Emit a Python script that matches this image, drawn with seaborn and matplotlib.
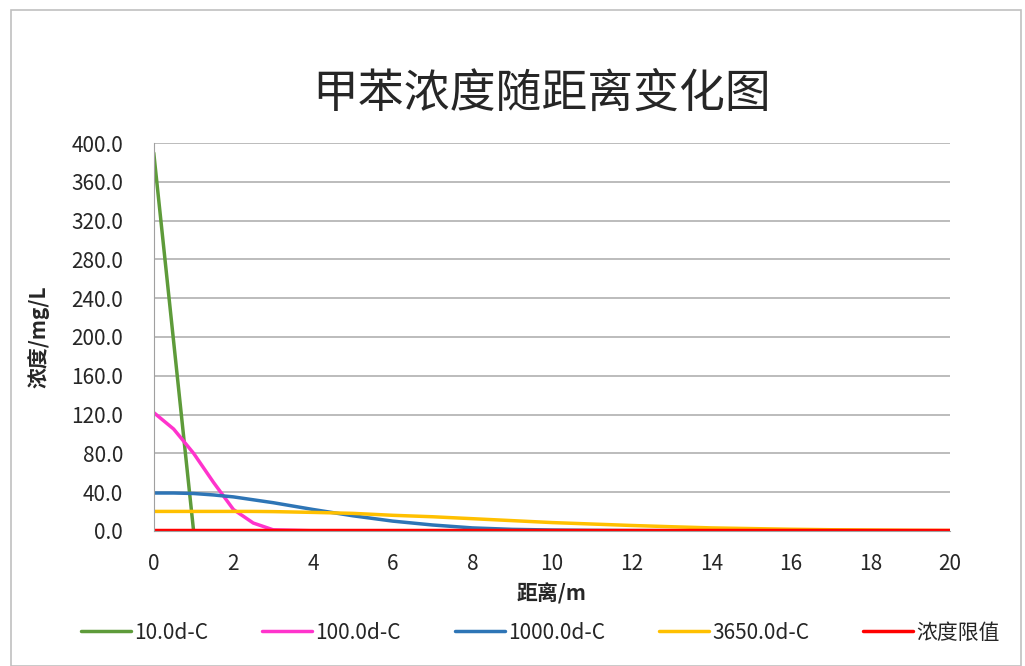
# 甲苯浓度随距离变化图
import numpy as np
import pandas as pd
import matplotlib
matplotlib.use("Agg")
import matplotlib.pyplot as plt
import seaborn as sns

# distance / m
distance = [0, 0.5, 1, 1.5, 2, 2.5, 3, 4, 5, 6, 7, 8, 9, 10, 11, 12, 13, 14, 15, 16, 17, 18, 19, 20]

# concentration / mg/L
c_10d = [390, 195, 0, 0, 0, 0, 0, 0, 0, 0, 0, 0, 0, 0, 0, 0, 0, 0, 0, 0, 0, 0, 0, 0]
c_100d = [122, 105, 80, 50, 22, 8, 1, 0, 0, 0, 0, 0, 0, 0, 0, 0, 0, 0, 0, 0, 0, 0, 0, 0]
c_1000d = [39, 39, 38.5, 37, 35, 32, 29, 22, 15.5, 10, 6, 3, 1.5, 0.8, 0.4, 0.2, 0.1, 0, 0, 0, 0, 0, 0, 0]
c_3650d = [20, 20, 20, 20, 20, 20, 19.8, 19, 18, 16, 14.5, 12.5, 10.5, 8.5, 7, 5.5, 4.2, 3, 2.3, 1.6, 1.1, 0.8, 0.5, 0.3]
c_limit = [0.7] * len(distance)

series_names = ["10.0d-C", "100.0d-C", "1000.0d-C", "3650.0d-C", "浓度限值"]
series_vals = [c_10d, c_100d, c_1000d, c_3650d, c_limit]
colors = ["#5e9b3a", "#ff33cc", "#2e75b6", "#ffc000", "#ff0000"]

y_ticks = np.arange(0, 401, 40)
x_ticks = np.arange(0, 21, 2)

# build long table for seaborn
rows = []
for name, vals in zip(series_names, series_vals):
    for d, v in zip(distance, vals):
        rows.append({"距离": d, "浓度": v, "series": name})
df = pd.DataFrame(rows)

sns.set_style("white")
plt.rcParams['font.family'] = ['Noto Sans CJK SC', 'DejaVu Sans']

fig = plt.figure(figsize=(10.25, 6.66), dpi=100)
ax = fig.add_axes([0.150, 0.203, 0.777, 0.582])

sns.lineplot(data=df, x="距离", y="浓度", hue="series", hue_order=series_names,
             palette=colors, linewidth=2.5, ax=ax, legend=False, sort=False)

# axes look like excel
ax.set_xlim(0, 20)
ax.set_ylim(0, 400)
ax.set_yticks(y_ticks)
ax.set_yticklabels([f"{v:.1f}" for v in y_ticks], fontsize=15, color="#262626")
ax.set_xticks(x_ticks)
ax.set_xticklabels([str(v) for v in x_ticks], fontsize=15, color="#262626")
ax.yaxis.grid(True, color="#b0b0b0", linewidth=1.2)
ax.xaxis.grid(False)
for s in ["top", "right"]:
    ax.spines[s].set_visible(False)
for s in ["left", "bottom"]:
    ax.spines[s].set_color("#a0a0a0")
ax.tick_params(axis="both", direction="out", length=6, color="#a0a0a0")
ax.tick_params(axis="y", pad=16)
ax.tick_params(axis="x", pad=10)

ax.set_xlabel("距离/m", fontsize=15, fontweight="bold", labelpad=6)
ax.set_ylabel("浓度/mg/L", fontsize=15, fontweight="bold", labelpad=16)
fig.text(0.528, 0.86, "甲苯浓度随距离变化图", fontsize=33, fontweight="medium", ha="center", va="center")

# legend below
handles = [plt.Line2D([], [], color=c, linewidth=2.5) for c in colors]
fig.legend(handles, series_names, loc="center", bbox_to_anchor=(0.527, 0.05), ncol=5,
           frameon=False, fontsize=15, handlelength=2.4, handletextpad=0.15, columnspacing=2.6)

# outer border
fig.patches.append(plt.Rectangle((0.011, 0.0), 0.985, 0.985, transform=fig.transFigure,
                                 fill=False, edgecolor="#c0c0c0", linewidth=1.2))

# Save
fig.savefig("out.png", dpi=100)
